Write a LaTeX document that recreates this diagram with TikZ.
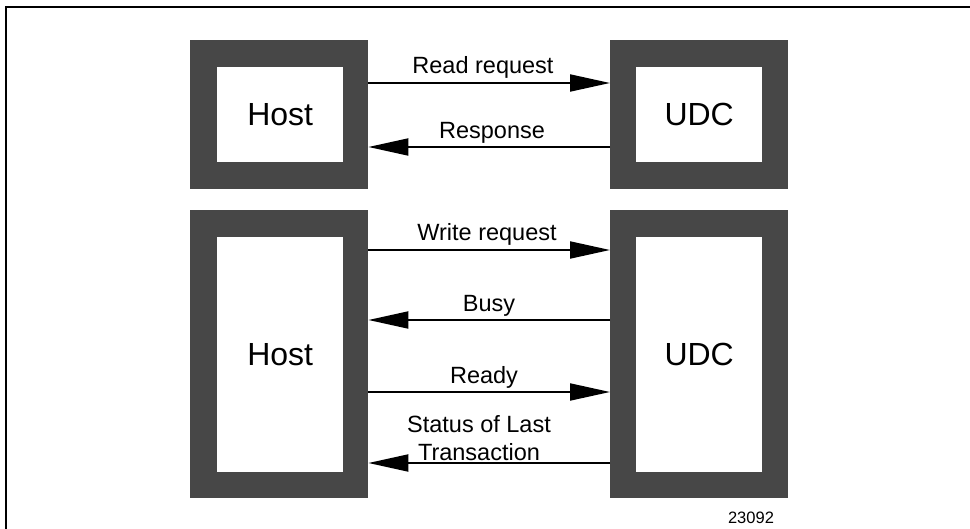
\documentclass[tikz,border=0pt]{standalone}
\usepackage{fontspec}
\setmainfont{Liberation Sans}
\usetikzlibrary{arrows.meta,patterns}
\tikzset{
  outerbox/.style={draw=none, fill=black!72, inner sep=0pt, anchor=north west},
  innerbox/.style={draw=none, fill=white, inner sep=0pt, anchor=north west, font=\fontsize{32}{36}\selectfont},
  arr/.style={line width=2pt, -{Triangle[length=40pt,width=17pt]}},
  lbl/.style={font=\fontsize{23.5}{28}\selectfont, inner sep=0pt, align=center},
}
\begin{document}
\begin{tikzpicture}[x=1pt,y=-1pt]
\useasboundingbox (0,0) rectangle (970,529);
\draw[line width=1.5pt] (6,529) -- (6,7) -- (970,7);
% top pair
\node[outerbox, minimum width=178pt, minimum height=149pt] (hostA) at (190,40) {};
\node[innerbox, minimum width=126pt, minimum height=95pt] (hostAin) at (217,67) {Host};
\node[outerbox, minimum width=178pt, minimum height=149pt] (udcA) at (610,40) {};
\node[innerbox, minimum width=126pt, minimum height=95pt] (udcAin) at (636,67) {UDC};
% bottom pair
\node[outerbox, minimum width=178pt, minimum height=288pt] (hostB) at (190,210) {};
\node[innerbox, minimum width=126pt, minimum height=235pt] (hostBin) at (217,237) {Host};
\node[outerbox, minimum width=178pt, minimum height=288pt] (udcB) at (610,210) {};
\node[innerbox, minimum width=126pt, minimum height=235pt] (udcBin) at (636,237) {UDC};
% arrow levels
\coordinate (y1) at (0,83);
\coordinate (y2) at (0,147);
\coordinate (y3) at (0,250);
\coordinate (y4) at (0,320);
\coordinate (y5) at (0,392);
\coordinate (y6) at (0,463);
\draw[arr] (hostA.east |- y1) -- (udcA.west |- y1);
\draw[arr] (udcA.west |- y2) -- (hostA.east |- y2);
\draw[arr] (hostB.east |- y3) -- (udcB.west |- y3);
\draw[arr] (udcB.west |- y4) -- (hostB.east |- y4);
\draw[arr] (hostB.east |- y5) -- (udcB.west |- y5);
\draw[arr] (udcB.west |- y6) -- (hostB.east |- y6);
% labels
\node[lbl] (l1) at (483,67) {Read request};
\node[lbl] (l2) at (492,133) {Response};
\node[lbl] (l3) at (487,234) {Write request};
\node[lbl] (l4) at (489,306) {Busy};
\node[lbl] (l5) at (484,377) {Ready};
\node[lbl] (l6) at (479,438) {Status of Last\\Transaction};
\node[font=\fontsize{16.5}{19}\selectfont, inner sep=0pt] (fig) at (751,518) {23092};
\end{tikzpicture}
\end{document}
